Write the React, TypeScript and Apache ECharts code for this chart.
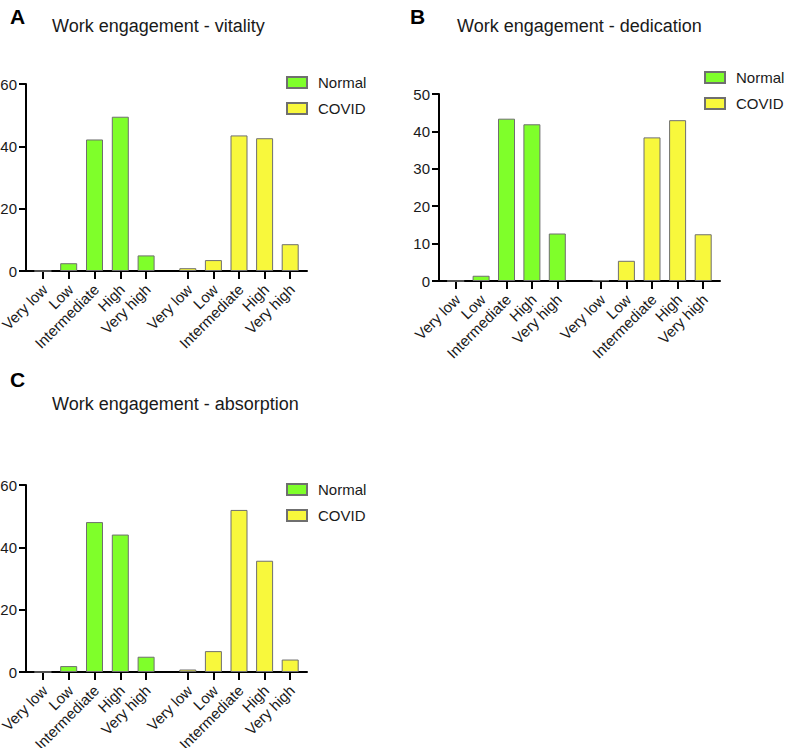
import React, { useEffect, useRef } from "react";
import * as echarts from "echarts";

const categories = ["Very low", "Low", "Intermediate", "High", "Very high"];
const seriesNames = ["Normal", "COVID"];

const vitalityNormal = [0, 2.5, 42.2, 49.5, 5.0];
const vitalityCovid = [0.9, 3.5, 43.5, 42.6, 8.6];

const dedicationNormal = [0, 1.4, 43.4, 41.9, 12.7];
const dedicationCovid = [0.2, 5.4, 38.4, 43.0, 12.5];

const absorptionNormal = [0, 1.9, 48.1, 44.1, 4.9];
const absorptionCovid = [0.8, 6.7, 52.0, 35.7, 4.0];

const panelLetters = ["A", "B", "C"];
const panelTitles = [
  "Work engagement - vitality",
  "Work engagement - dedication",
  "Work engagement - absorption",
];
const yMax = [60, 50, 60];
const yInterval = [20, 10, 20];

const GREEN = "#7FFF2A";
const YELLOW = "#F8F83C";
const BORDER = "#6f6f6f";
const FONT = "'Liberation Sans', Arial, Helvetica, sans-serif";
const TEXT = "#1a1a1a";

// layout per panel
const layouts = [
  { axisLeft: 26, axisRight: 307, nLeft: 30, nWidth: 129, cLeft: 175, cWidth: 128, top: 84, height: 187,
    letter: [10, 6], title: [52, 17], legend: [286, 75] },
  { axisLeft: 439, axisRight: 720, nLeft: 443, nWidth: 127, cLeft: 588, cWidth: 128, top: 94, height: 187,
    letter: [410, 6], title: [457, 17], legend: [704, 70] },
  { axisLeft: 26, axisRight: 307, nLeft: 30, nWidth: 129, cLeft: 175, cWidth: 128, top: 485, height: 187,
    letter: [10, 369], title: [52, 395], legend: [286, 482] },
];

const data = [
  [vitalityNormal, vitalityCovid],
  [dedicationNormal, dedicationCovid],
  [absorptionNormal, absorptionCovid],
];

export default function App() {
  const ref = useRef<HTMLDivElement>(null);
  useEffect(() => {
    if (!ref.current) return;
    const chart = echarts.init(ref.current, null, { renderer: "svg" });
    const grid: any[] = [];
    const xAxis: any[] = [];
    const yAxis: any[] = [];
    const series: any[] = [];
    const title: any[] = [];
    const legend: any[] = [];

    layouts.forEach((L, p) => {
      const base = p * 3;
      const g = { top: L.top, height: L.height, containLabel: false, outerBoundsMode: "none" };
      grid.push({ ...g, left: L.nLeft, width: L.nWidth });
      grid.push({ ...g, left: L.cLeft, width: L.cWidth });
      grid.push({ ...g, left: L.axisLeft, width: L.axisRight - L.axisLeft });

      const catAxis = (gi: number) => ({
        type: "category",
        gridIndex: gi,
        data: categories,
        axisLine: { show: false, onZero: false },
        axisTick: { show: true, alignWithLabel: true, length: 8, lineStyle: { color: "#000", width: 2 } },
        axisLabel: {
          rotate: 45,
          interval: 0,
          margin: 7,
          align: "right",
          verticalAlign: "top",
          padding: [0, 5, 0, 0],
          fontSize: 15,
          fontFamily: FONT,
          color: TEXT,
        },
      });
      xAxis.push(catAxis(base));
      xAxis.push(catAxis(base + 1));
      xAxis.push({
        type: "value",
        gridIndex: base + 2,
        min: 0,
        max: 1,
        axisLine: { show: true, onZero: false, lineStyle: { color: "#000", width: 2 } },
        axisTick: { show: false },
        axisLabel: { show: false },
        splitLine: { show: false },
      });

      const hiddenY = (gi: number) => ({
        type: "value",
        gridIndex: gi,
        min: 0,
        max: yMax[p],
        interval: yInterval[p],
        show: false,
        splitLine: { show: false },
      });
      yAxis.push(hiddenY(base));
      yAxis.push(hiddenY(base + 1));
      yAxis.push({
        type: "value",
        gridIndex: base + 2,
        min: 0,
        max: yMax[p],
        interval: yInterval[p],
        axisLine: { show: true, lineStyle: { color: "#000", width: 2 } },
        axisTick: { show: true, length: 7, lineStyle: { color: "#000", width: 2 } },
        axisLabel: { margin: 9, fontSize: 15, fontFamily: FONT, color: TEXT },
        splitLine: { show: false },
      });

      series.push({
        type: "bar",
        name: seriesNames[0],
        xAxisIndex: base,
        yAxisIndex: base,
        data: data[p][0],
        barWidth: 17,
        itemStyle: { color: GREEN, borderColor: BORDER, borderWidth: 1 },
        z: 3,
      });
      series.push({
        type: "bar",
        name: seriesNames[1],
        xAxisIndex: base + 1,
        yAxisIndex: base + 1,
        data: data[p][1],
        barWidth: 17,
        itemStyle: { color: YELLOW, borderColor: BORDER, borderWidth: 1 },
        z: 3,
      });

      title.push({
        text: panelLetters[p],
        left: L.letter[0],
        top: L.letter[1],
        padding: 0,
        textStyle: { fontSize: 21, fontWeight: "bold", fontFamily: FONT, color: "#000" },
      });
      title.push({
        text: panelTitles[p],
        left: L.title[0],
        top: L.title[1],
        padding: 0,
        textStyle: { fontSize: 18, fontWeight: "normal", fontFamily: FONT, color: TEXT },
      });
      legend.push({
        orient: "vertical",
        left: L.legend[0],
        top: L.legend[1],
        padding: 0,
        itemWidth: 20,
        itemHeight: 11,
        itemGap: 11,
        icon: "rect",
        data: seriesNames,
        selectedMode: false,
        textStyle: { fontSize: 15, fontFamily: FONT, color: TEXT, padding: [0, 0, 0, 6] },
      });
    });

    chart.setOption({
      animation: false,
      backgroundColor: "#fff",
      title,
      legend,
      grid,
      xAxis,
      yAxis,
      series,
    });
    return () => chart.dispose();
  }, []);
  return (
    <div
      ref={ref}
      style={{ position: "fixed", left: 0, top: 0, width: 785, height: 748 }}
    />
  );
}
